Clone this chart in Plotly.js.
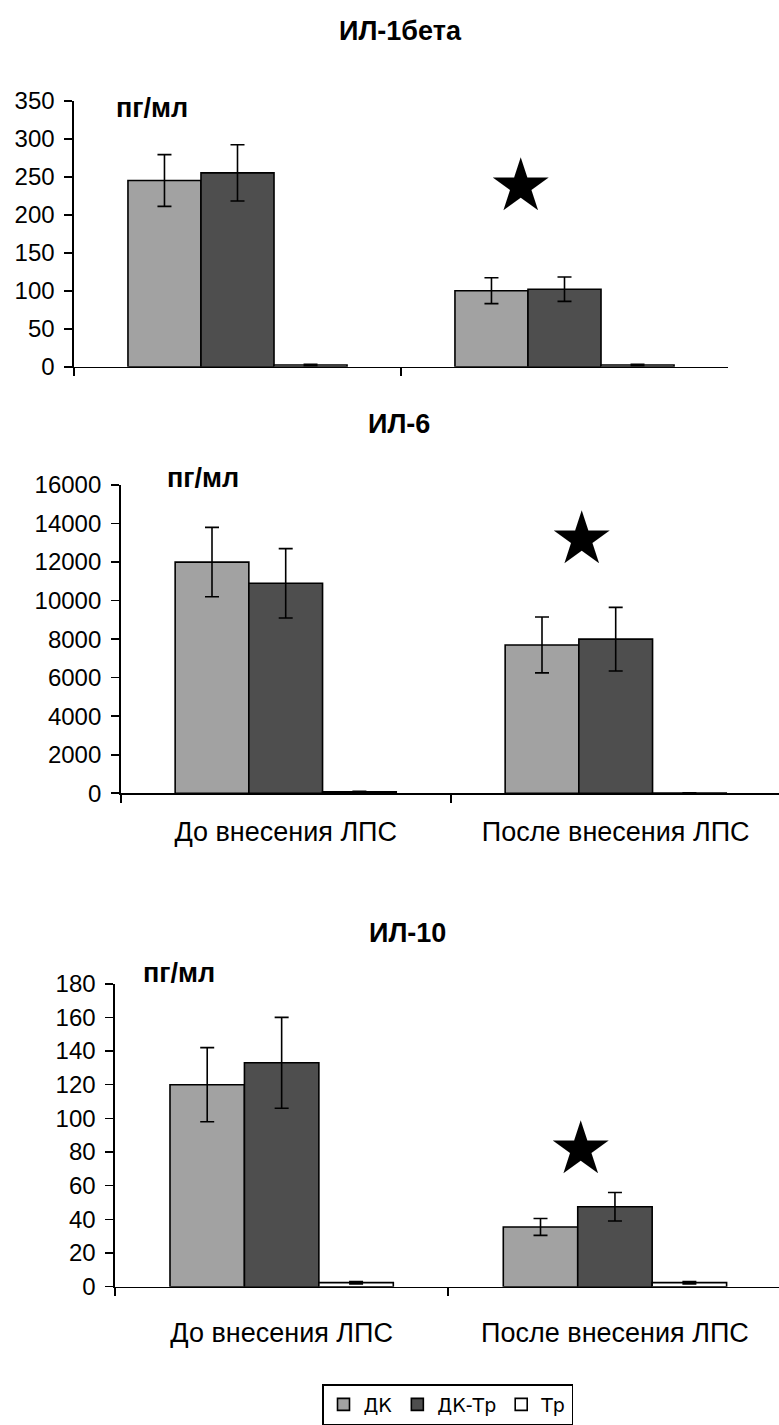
<!DOCTYPE html>
<html>
<head>
<meta charset="utf-8">
<script src="https://cdn.plot.ly/plotly-3.0.1.min.js"></script>
<style>
  html, body { margin: 0; padding: 0; background: #ffffff; }
  #chart { width: 779px; height: 1425px; }
</style>
</head>
<body>
<div id="chart"></div>
<script>
// Groups along the category axis
const categories = ['До внесения ЛПС', 'После внесения ЛПС'];

// Series names
const seriesNames = ['ДК', 'ДК-Тр', 'Тр'];

// ИЛ-1бета, пг/мл (mean and error)
const il1bDK = [245, 100];
const il1bDKErr = [34, 17];
const il1bDKTr = [255, 102];
const il1bDKTrErr = [37, 16];
const il1bTr = [2.2, 2.2];
const il1bTrErr = [1, 1];

// ИЛ-6, пг/мл
const il6DK = [12000, 7700];
const il6DKErr = [1800, 1450];
const il6DKTr = [10900, 8000];
const il6DKTrErr = [1800, 1650];
const il6Tr = [80, 15];
const il6TrErr = [30, 10];

// ИЛ-10, пг/мл
const il10DK = [120, 35.5];
const il10DKErr = [22, 5];
const il10DKTr = [133, 47.5];
const il10DKTrErr = [27, 8.5];
const il10Tr = [2.4, 2.4];
const il10TrErr = [0.7, 0.7];

// Significance star positions (category index, value) per panel
const starX = [0.864, 0.895, 0.898];
const starY = [240, 13250, 82.5];

// Panel titles and units
const panelTitles = ['ИЛ-1бета', 'ИЛ-6', 'ИЛ-10'];
const unitLabel = 'пг/мл';

const W = 779, H = 1425;
const fontFamily = 'Arial, "Liberation Sans", sans-serif';
const fillColors = ['#a2a2a2', '#4e4e4e', '#ffffff'];

function errBar(arr) {
  return { type: 'data', array: arr, visible: true, color: '#000000', thickness: 1.6, width: 7 };
}

function panelTraces(vals, errs, xa, ya, legend) {
  return vals.map((v, i) => ({
    type: 'bar',
    name: seriesNames[i],
    x: categories,
    y: v,
    xaxis: xa,
    yaxis: ya,
    error_y: errBar(errs[i]),
    marker: { color: fillColors[i], line: { color: '#000000', width: 1.6 } },
    legendgroup: seriesNames[i],
    showlegend: legend,
    hoverinfo: 'x+y+name'
  }));
}

const data = [].concat(
  panelTraces([il1bDK, il1bDKTr, il1bTr], [il1bDKErr, il1bDKTrErr, il1bTrErr], 'x', 'y', false),
  panelTraces([il6DK, il6DKTr, il6Tr], [il6DKErr, il6DKTrErr, il6TrErr], 'x2', 'y2', false),
  panelTraces([il10DK, il10DKTr, il10Tr], [il10DKErr, il10DKTrErr, il10TrErr], 'x3', 'y3', true)
);

// pixel helpers for the panel frames
const px = v => v / W;
const py = v => 1 - v / H;

function catAxis(domain, range, showLabels, standoff) {
  return {
    type: 'category',
    domain: domain,
    range: range,
    showline: true, linecolor: '#000000', linewidth: 1.6,
    ticks: 'outside', ticklen: 8, tickwidth: 1.6, tickcolor: '#000000',
    tickson: 'boundaries',
    showgrid: false, zeroline: false,
    showticklabels: showLabels,
    tickfont: { family: fontFamily, size: 27, color: '#000000' },
    ticklabelstandoff: standoff,
    fixedrange: true
  };
}

function valAxis(domain, range, dtick, anchor) {
  return {
    domain: domain,
    range: range,
    dtick: dtick,
    tick0: 0,
    tickformat: 'd',
    exponentformat: 'none',
    anchor: anchor,
    showline: true, linecolor: '#000000', linewidth: 1.6,
    ticks: 'outside', ticklen: 8, tickwidth: 1.6, tickcolor: '#000000',
    showgrid: false, zeroline: false,
    tickfont: { family: fontFamily, size: 24, color: '#000000' },
    ticklabelstandoff: 5,
    fixedrange: true
  };
}

const xa1 = catAxis([px(74), px(728)], [-0.5, 1.5], false, 6); xa1.anchor = 'y';
const xa2 = catAxis([px(120.7), 1], [-0.5, -0.5 + (W - 120.7) / 330], true, 14); xa2.anchor = 'y2';
const xa3 = catAxis([px(115), 1], [-0.5, -0.5 + (W - 115) / 333.3], true, 21); xa3.anchor = 'y3';

const ya1 = valAxis([py(366.7), py(100.7)], [0, 350], 50, 'x');
const ya2 = valAxis([py(793.3), py(485)], [0, 16000], 2000, 'x2');
const ya3 = valAxis([py(1286.7), py(983.7)], [0, 180], 20, 'x3');

const annotations = [];
// titles
[[400, 30.5, 27], [398.5, 424, 27], [407.5, 933, 27]].forEach((p, i) => {
  annotations.push({
    xref: 'paper', yref: 'paper', x: px(p[0]), y: py(p[1]),
    xanchor: 'center', yanchor: 'middle', showarrow: false,
    text: '<b>' + panelTitles[i] + '</b>',
    font: { family: fontFamily, size: p[2], color: '#000000' }
  });
});
// unit labels
[[151.7, 108], [203, 478], [179.3, 973]].forEach(p => {
  annotations.push({
    xref: 'paper', yref: 'paper', x: px(p[0]), y: py(p[1]),
    xanchor: 'center', yanchor: 'middle', showarrow: false,
    text: '<b>' + unitLabel + '</b>',
    font: { family: fontFamily, size: 27, color: '#000000' }
  });
});
// significance stars
['x', 'x2', 'x3'].forEach((xr, i) => {
  annotations.push({
    xref: xr, yref: ['y', 'y2', 'y3'][i], x: starX[i], y: starY[i],
    xanchor: 'center', yanchor: 'middle', showarrow: false,
    text: '★',
    font: { family: '"DejaVu Sans", sans-serif', size: 73, color: '#000000' }
  });
});

const layout = {
  width: W, height: H,
  margin: { l: 0, r: 0, t: 0, b: 0 },
  paper_bgcolor: '#ffffff', plot_bgcolor: 'rgba(0,0,0,0)',
  barmode: 'group', bargap: 0.33, bargroupgap: 0,
  showlegend: true,
  legend: {
    orientation: 'h',
    x: px(322), xanchor: 'left',
    y: py(1384), yanchor: 'top',
    bgcolor: '#ffffff', bordercolor: '#000000', borderwidth: 1.5,
    font: { family: '"DejaVu Sans", sans-serif', size: 19, color: '#000000' },
    itemwidth: 30,
    traceorder: 'normal'
  },
  xaxis: xa1, yaxis: ya1,
  xaxis2: xa2, yaxis2: ya2,
  xaxis3: xa3, yaxis3: ya3,
  annotations: annotations
};

Plotly.newPlot('chart', data, layout, { displayModeBar: false, staticPlot: true });
</script>
</body>
</html>
